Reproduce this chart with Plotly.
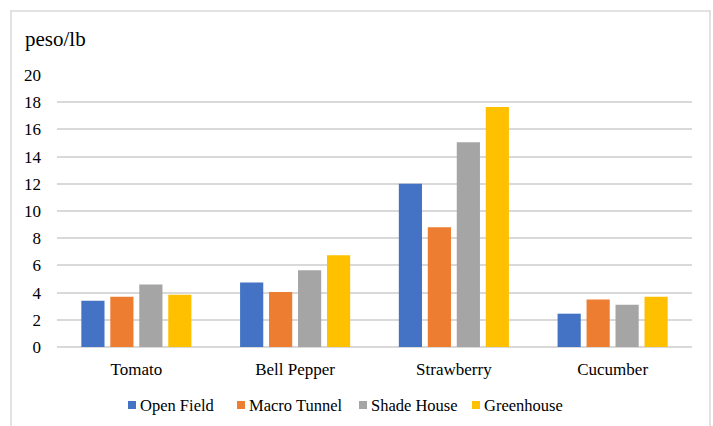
import plotly.graph_objects as go

categories = ["Tomato", "Bell Pepper", "Strawberry", "Cucumber"]
series_names = ["Open Field", "Macro Tunnel", "Shade House", "Greenhouse"]
open_field = [3.4, 4.75, 12.0, 2.45]
macro_tunnel = [3.7, 4.05, 8.8, 3.5]
shade_house = [4.6, 5.65, 15.05, 3.1]
greenhouse = [3.85, 6.75, 17.65, 3.7]
colors = ["#4472C4", "#ED7D31", "#A5A5A5", "#FFC000"]
y_ticks = [0, 2, 4, 6, 8, 10, 12, 14, 16, 18, 20]

font = "Liberation Serif"
fig = go.Figure()
for name, vals, c in zip(series_names, [open_field, macro_tunnel, shade_house, greenhouse], colors):
    fig.add_trace(go.Bar(name=name, x=categories, y=vals, marker=dict(color=c, line=dict(width=0)),
                         showlegend=False))

L, R, T, B = 57, 21, 75, 79
W, H = 713, 426
pw = W - L - R
ph = H - T - B

def px_x(px):
    return (px - L) / pw

def px_y(py):
    return (H - B - py) / ph

legend_sym_x = [128, 237, 359, 472]
legend_y = 405
annotations = [dict(text="peso/lb", xref="paper", yref="paper", x=px_x(23), y=px_y(39),
                    xanchor="left", yanchor="middle", showarrow=False,
                    font=dict(family=font, size=21, color="#000000"))]
shapes = [dict(type="rect", xref="paper", yref="paper",
               x0=px_x(11), x1=px_x(710), y0=px_y(436), y1=px_y(11),
               line=dict(color="#D9D9D9", width=1.5), fillcolor="rgba(0,0,0,0)", layer="below")]
for name, c, sx in zip(series_names, colors, legend_sym_x):
    shapes.append(dict(type="rect", xref="paper", yref="paper",
                       x0=px_x(sx), x1=px_x(sx + 8), y0=px_y(legend_y - 4), y1=px_y(legend_y + 4),
                       line=dict(width=0), fillcolor=c))
    annotations.append(dict(text=name, xref="paper", yref="paper", x=px_x(sx + 10), y=px_y(legend_y),
                            xanchor="left", yanchor="middle", showarrow=False,
                            font=dict(family=font, size=16.5, color="#000000")))

fig.update_layout(
    width=W, height=H,
    margin=dict(l=L, r=R, t=T, b=B, autoexpand=False),
    paper_bgcolor="white", plot_bgcolor="white",
    barmode="group", bargap=0.27, bargroupgap=0.2,
    font=dict(family=font, size=16, color="#000000"),
    showlegend=False,
    xaxis=dict(showgrid=False, showline=False, ticks="", tickfont=dict(family=font, size=17),
               ticklabelstandoff=10, automargin=False),
    yaxis=dict(range=[0, 20], tickvals=y_ticks, showgrid=True, gridcolor="#D9D9D9", gridwidth=1.5,
               zeroline=True, zerolinecolor="#D9D9D9", zerolinewidth=1.5, ticks="",
               tickfont=dict(family=font, size=17), ticklabelstandoff=15, automargin=False),
    shapes=shapes,
    annotations=annotations,
)

fig.write_html("out.html")
